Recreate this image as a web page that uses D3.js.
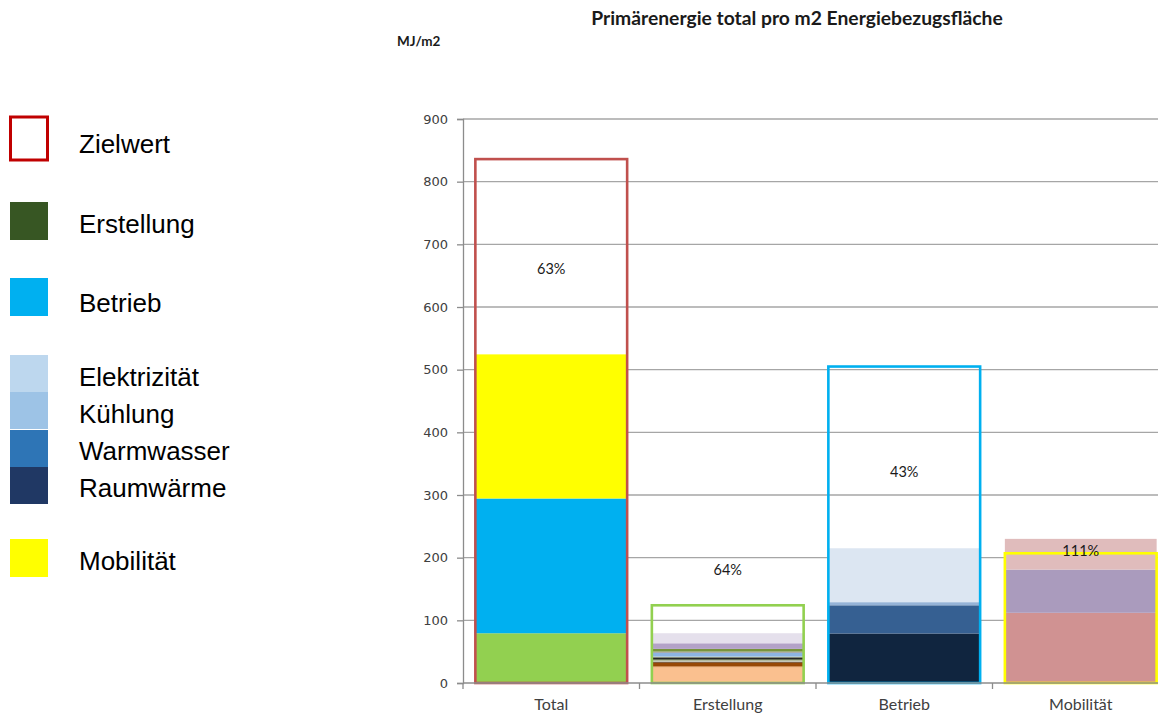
<!DOCTYPE html>
<html>
<head>
<meta charset="utf-8">
<script src="https://cdn.jsdelivr.net/npm/d3@7"></script>
<style>
  html, body { margin: 0; padding: 0; background: #fff; }
  svg { display: block; }
</style>
</head>
<body>
<svg id="chart" width="1158" height="717"></svg>
<script>
// Primärenergie pro m2 Energiebezugsfläche (MJ/m2)
const categories = ["Total", "Erstellung", "Betrieb", "Mobilität"];

// Zielwerte per Bereich; Total ist die Summe
const targetErstellung = 124;
const targetBetrieb = 505;
const targetMobilitaet = 207;

// Erstellung: Bauteilgruppen (von unten nach oben)
const erstellungValues = [25, 1.6, 6.4, 1.1, 2.1, 1.6, 3.2, 1.1, 5.9, 2.1, 4.3, 9.0, 16.0];
const erstellungColors = ["#fac08f", "#e0883c", "#974806", "#111111", "#d8d8c4", "#4f6228",
                          "#262626", "#c3d69b", "#8db4e2", "#a6a6a6", "#77933c", "#b3a2c7", "#e5e0ec"];

// Betrieb: Raumwärme, Warmwasser, Kühlung, Elektrizität
const betriebNames = ["Raumwärme", "Warmwasser", "Kühlung", "Elektrizität"];
const betriebValues = [79, 45, 5, 86];
const betriebColors = ["#10253f", "#366092", "#95b3d7", "#dce6f2"];

// Mobilität: Anteile
const mobilitaetValues = [112, 69, 49];
const mobilitaetColors = ["#d09292", "#aa9bbd", "#e0bcbc"];

// Total: Erstellung, Betrieb, Mobilität
const totalColors = ["#92d050", "#00b0f0", "#ffff00"];

const outlineColors = ["#c0504d", "#92d050", "#00b0f0", "#ffff00"];

// Lage der Prozentangaben (in MJ/m2)
const labelAnchors = [660, 180, 337, 210];

const yTicks = [0, 100, 200, 300, 400, 500, 600, 700, 800, 900];

const legendItems = [
  { label: "Zielwert", type: "outline", color: "#c00000" },
  { label: "Erstellung", color: "#375623" },
  { label: "Betrieb", color: "#00b0f0" },
  { label: "Elektrizität", color: "#bdd7ee" },
  { label: "Kühlung", color: "#9dc3e6" },
  { label: "Warmwasser", color: "#2e75b6" },
  { label: "Raumwärme", color: "#203864" },
  { label: "Mobilität", color: "#ffff00" }
];

const sum = a => d3.sum(a);
const actuals = [
  sum(erstellungValues) + sum(betriebValues) + sum(mobilitaetValues),
  sum(erstellungValues), sum(betriebValues), sum(mobilitaetValues)
];
const targets = [
  targetErstellung + targetBetrieb + targetMobilitaet,
  targetErstellung, targetBetrieb, targetMobilitaet
];

const stacks = [
  { values: [sum(erstellungValues), sum(betriebValues), sum(mobilitaetValues)], colors: totalColors },
  { values: erstellungValues, colors: erstellungColors },
  { values: betriebValues, colors: betriebColors },
  { values: mobilitaetValues, colors: mobilitaetColors }
];

const svg = d3.select("#chart");

const plot = { left: 463, right: 1169, top: 119, bottom: 683 };

const y = d3.scaleLinear().domain([0, 900]).range([plot.bottom, plot.top]);
const x = d3.scaleBand().domain(categories).range([plot.left, plot.right])
  .paddingInner(0.14).paddingOuter(0.07);

// Gitterlinien
svg.append("g")
  .selectAll("line")
  .data(yTicks.filter(t => t > 0))
  .join("line")
  .attr("x1", plot.left).attr("x2", plot.right)
  .attr("y1", d => y(d)).attr("y2", d => y(d))
  .attr("stroke", "#a6a6a6").attr("stroke-width", 1.3);

// Gestapelte Balken
categories.forEach((cat, i) => {
  const s = stacks[i];
  let base = 0;
  const segs = s.values.map((v, k) => {
    const seg = { y0: base, y1: base + v, color: s.colors[k] };
    base += v;
    return seg;
  });
  svg.append("g")
    .selectAll("rect")
    .data(segs)
    .join("rect")
    .attr("x", x(cat))
    .attr("width", x.bandwidth())
    .attr("y", d => y(d.y1))
    .attr("height", d => y(d.y0) - y(d.y1))
    .attr("fill", d => d.color);
});

// Zielwert-Rahmen
svg.append("g")
  .selectAll("rect")
  .data(categories)
  .join("rect")
  .attr("x", d => x(d))
  .attr("width", x.bandwidth())
  .attr("y", (d, i) => y(targets[i]))
  .attr("height", (d, i) => y(0) - y(targets[i]))
  .attr("fill", "none")
  .attr("stroke", (d, i) => outlineColors[i])
  .attr("stroke-width", 2.6);

// y-Achse
const yAxis = d3.axisLeft(y).tickValues(yTicks).tickSize(6).tickPadding(9);
const gy = svg.append("g").attr("transform", `translate(${plot.left},0)`).call(yAxis);
gy.select(".domain").attr("stroke", "#8c8c8c").attr("stroke-width", 1.3);
gy.selectAll(".tick line").attr("stroke", "#8c8c8c").attr("stroke-width", 1.3);
gy.selectAll(".tick text")
  .attr("font-family", "'DejaVu Sans', Verdana, sans-serif")
  .attr("font-size", 13)
  .attr("fill", "#404040");

// x-Achse: Linie mit Trennstrichen zwischen den Kategorien
svg.append("line")
  .attr("x1", plot.left).attr("x2", plot.right)
  .attr("y1", plot.bottom).attr("y2", plot.bottom)
  .attr("stroke", "#8c8c8c").attr("stroke-width", 1.3);
svg.append("g")
  .selectAll("line")
  .data(categories.concat(["end"]))
  .join("line")
  .attr("x1", (d, i) => plot.left + i * x.step())
  .attr("x2", (d, i) => plot.left + i * x.step())
  .attr("y1", plot.bottom).attr("y2", plot.bottom + 6)
  .attr("stroke", "#8c8c8c").attr("stroke-width", 1.3);

svg.append("g")
  .selectAll("text")
  .data(categories)
  .join("text")
  .attr("x", d => x(d) + x.bandwidth() / 2)
  .attr("y", 710)
  .attr("text-anchor", "middle")
  .attr("font-family", "Lato, 'Open Sans', sans-serif")
  .attr("font-size", 16)
  .attr("fill", "#404040")
  .text(d => d);

// Prozent: Ist / Zielwert
svg.append("g")
  .selectAll("text")
  .data(categories)
  .join("text")
  .attr("x", d => x(d) + x.bandwidth() / 2)
  .attr("y", (d, i) => y(labelAnchors[i]))
  .attr("dy", "0.35em")
  .attr("text-anchor", "middle")
  .attr("font-family", "Lato, 'Open Sans', sans-serif")
  .attr("font-size", 14.5)
  .attr("fill", "#1a1a1a")
  .text((d, i) => Math.round(actuals[i] / targets[i] * 100) + "%");

// Titel und Einheit
svg.append("text")
  .attr("x", 797).attr("y", 25)
  .attr("text-anchor", "middle")
  .attr("font-family", "Lato, 'Open Sans', sans-serif")
  .attr("font-weight", "bold")
  .attr("font-size", 19.3)
  .attr("fill", "#1a1a1a")
  .text("Primärenergie total pro m2 Energiebezugsfläche");

svg.append("text")
  .attr("x", 397).attr("y", 46)
  .attr("font-family", "Lato, 'Open Sans', sans-serif")
  .attr("font-weight", "bold")
  .attr("font-size", 13.5)
  .attr("fill", "#1a1a1a")
  .text("MJ/m2");

// Legende
const legendY = [117, 202, 278, 355, 392, 430, 467, 539];
const legendText = [153, 233, 312, 386, 423, 460, 497, 570];
const lg = svg.append("g");
legendItems.forEach((item, i) => {
  const h = (i >= 3 && i <= 6) ? 37 : 38;
  if (item.type === "outline") {
    lg.append("rect")
      .attr("x", 10.5).attr("y", legendY[i])
      .attr("width", 37).attr("height", 43)
      .attr("fill", "none")
      .attr("stroke", item.color)
      .attr("stroke-width", 3);
  } else {
    lg.append("rect")
      .attr("x", 10).attr("y", legendY[i])
      .attr("width", 38).attr("height", h)
      .attr("fill", item.color);
  }
  lg.append("text")
    .attr("x", 79).attr("y", legendText[i])
    .attr("font-family", "'Liberation Sans', Arial, sans-serif")
    .attr("font-size", 26)
    .attr("fill", "#000")
    .text(item.label);
});
</script>
</body>
</html>
